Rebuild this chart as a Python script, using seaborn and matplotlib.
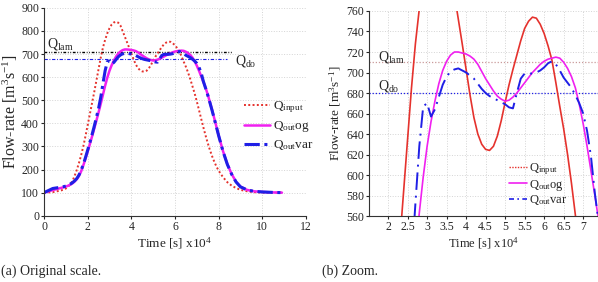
import matplotlib
matplotlib.use("Agg")
import matplotlib.pyplot as plt
from matplotlib.lines import Line2D
import seaborn as sns

# time axis in units of 1e4 s, shared by the three hydrographs
time = [0, 0.4, 0.8, 1.0, 1.2, 1.3, 1.4, 1.5, 1.6, 1.7, 1.8, 1.9, 2.0,
        2.1, 2.2, 2.3, 2.4, 2.5, 2.6, 2.7, 2.8, 2.9, 3.0,
        3.1, 3.2, 3.3, 3.4, 3.5, 3.6, 3.7, 3.8, 3.9, 4.0,
        4.1, 4.2, 4.3, 4.4, 4.5, 4.6, 4.7, 4.8, 4.9, 5.0,
        5.1, 5.2, 5.3, 5.4, 5.5, 5.6, 5.7, 5.8, 5.9, 6.0,
        6.1, 6.2, 6.3, 6.4, 6.5, 6.6, 6.7, 6.8, 6.9, 7.0,
        7.1, 7.2, 7.3, 7.4, 7.5, 7.6, 7.7, 7.8, 7.9,
        8.0, 8.2, 8.4, 8.6, 8.8, 9.0, 9.3, 9.6, 10.0, 10.5, 10.9]

q_input = [100, 102, 110, 118, 135, 150, 172, 198, 228, 262, 300, 345, 392,
           440, 488, 535, 585, 635, 685, 728, 762, 790, 812,
           828, 837, 840, 836, 824, 800, 776, 752, 728, 703,
           678, 656, 640, 630, 625, 624, 628, 638, 653, 671,
           688, 703, 717, 731, 743, 750, 754, 753, 747, 738,
           726, 712, 690, 667, 645, 620, 592, 561, 530, 495,
           458, 420, 383, 348, 315, 285, 258, 234, 213,
           195, 167, 145, 130, 120, 112, 106, 102, 100, 100, 100]

q_out_og = [100, 111, 121, 126, 134, 140, 148, 158, 172, 192, 218, 247, 278,
            310, 343, 377, 412, 448, 485, 524, 563, 598, 628,
            652, 672, 689, 702, 711, 717, 720, 720, 719, 718,
            716, 713, 708, 701, 694, 688, 682, 677, 674, 672,
            673, 676, 680, 685, 690, 695, 700, 704, 708, 711,
            713, 714, 715, 714, 710, 704, 696, 685, 669, 650,
            628, 604, 580, 555, 525, 492, 458, 422, 385,
            348, 280, 223, 180, 147, 126, 112, 106, 103, 101, 100]

q_out_var = [100, 118, 124, 128, 137, 143, 151, 161, 176, 197, 222, 252, 284,
             317, 351, 387, 425, 465, 513, 572, 628, 667, 670,
             657, 664, 676, 688, 696, 701, 703, 704, 702, 700,
             697, 694, 689, 684, 680, 677, 675, 673, 671, 669,
             666, 665, 680, 694, 699, 699, 699, 700, 702, 705,
             709, 711, 708, 702, 695, 690, 685, 678, 670, 660,
             643, 618, 582, 553, 523, 490, 456, 420, 384,
             347, 279, 222, 179, 146, 125, 112, 106, 103, 101, 100]

q_lam = 710
q_do = 680
lam_span = [0, 8.6]
do_span = [0, 8.4]

left_xticks = [0, 2, 4, 6, 8, 10, 12]
left_yticks = [0, 100, 200, 300, 400, 500, 600, 700, 800, 900]
right_xticks = [2, 2.5, 3, 3.5, 4, 4.5, 5, 5.5, 6, 6.5, 7]
right_xticklabels = ["2", "2.5", "3", "3.5", "4", "4.5", "5", "5.5", "6", "6.5", "7"]
right_yticks = [560, 580, 600, 620, 640, 660, 680, 700, 720, 740, 760]

RED = "#e5322d"
MAGENTA = "#f020f0"
BLUE = "#1f1fe6"

sns.set_style("ticks")
plt.rcParams["font.family"] = ["Liberation Serif", "DejaVu Serif"]
plt.rcParams["mathtext.fontset"] = "custom"
plt.rcParams["mathtext.rm"] = "Liberation Serif"
plt.rcParams["mathtext.it"] = "Liberation Serif:italic"

fig = plt.figure(figsize=(5.98, 2.82), dpi=100)
ax1 = fig.add_axes([0.0736, 0.235, 0.438, 0.737])
ax2 = fig.add_axes([0.617, 0.234, 0.383, 0.727])

lbl_in = r"Q$_{\rm input}$"
lbl_og = r"Q$_{\rm out}$og"
lbl_var = r"Q$_{\rm out}$var"
ylab = r"Flow-rate [m$^3$s$^{-1}$]"
xlab = r"Time [s] x10$^4$"

grid_kw = dict(color="#d4d4d4", linestyle=":", linewidth=0.7)

# ---- (a) original scale
sns.lineplot(x=lam_span, y=[q_lam, q_lam], ax=ax1, color="black",
             linestyle=(0, (2, 1.2, 0.6, 1.2, 0.6, 1.2)), linewidth=1.0)
sns.lineplot(x=do_span, y=[q_do, q_do], ax=ax1, color=BLUE,
             linestyle=(0, (3, 1.5, 0.8, 1.5)), linewidth=0.8)
sns.lineplot(x=time, y=q_input, ax=ax1, color=RED, linestyle=(0, (1, 1.2)),
             linewidth=1.4, sort=False, estimator=None, label=lbl_in)
sns.lineplot(x=time, y=q_out_og, ax=ax1, color=MAGENTA, linewidth=1.8,
             sort=False, estimator=None, label=lbl_og)
sns.lineplot(x=time, y=q_out_var, ax=ax1, color=BLUE, linewidth=2.2,
             linestyle=(0, (5, 1.5, 1, 1.5)), sort=False, estimator=None,
             label=lbl_var)

ax1.set_xlim(0, 12)
ax1.set_ylim(0, 900)
ax1.set_xticks(left_xticks)
ax1.set_yticks(left_yticks)
ax1.grid(True, **grid_kw)
ax1.set_xlabel(xlab, fontsize=9.5, labelpad=2)
ax1.set_ylabel(ylab, fontsize=11.5, labelpad=1)
ax1.tick_params(labelsize=8.5, length=2, pad=1.5)
ax1.text(0.15, 727, r"Q$_{\rm lam}$", fontsize=10)
ax1.text(8.75, 668, r"Q$_{\rm do}$", fontsize=10, va="center")
ax1.legend(loc="center left", bbox_to_anchor=(0.408, 0.553),
           bbox_transform=fig.transFigure, frameon=False, fontsize=9.5,
           handlelength=2.0, handletextpad=0.2, labelspacing=0.3,
           borderpad=0, borderaxespad=0)

# ---- (b) zoom
ax2.axhline(q_lam, color="#c99a9a", linestyle=(0, (1, 1.5)), linewidth=0.9)
ax2.axhline(q_do, color=BLUE, linestyle=(0, (1, 1.5)), linewidth=0.9)
sns.lineplot(x=time, y=q_input, ax=ax2, color=RED, linewidth=1.2,
             sort=False, estimator=None, legend=False)
sns.lineplot(x=time, y=q_out_og, ax=ax2, color=MAGENTA, linewidth=1.2,
             sort=False, estimator=None, legend=False)
sns.lineplot(x=time, y=q_out_var, ax=ax2, color=BLUE, linewidth=1.4,
             linestyle=(0, (9, 3, 1, 3)), sort=False, estimator=None,
             legend=False)

ax2.set_xlim(1.51, 7.38)
ax2.set_ylim(560, 760)
ax2.set_xticks(right_xticks)
ax2.set_xticklabels(right_xticklabels)
ax2.set_yticks(right_yticks)
ax2.grid(True, **grid_kw)
ax2.set_xlabel(xlab, fontsize=9, labelpad=2)
ax2.set_ylabel(ylab, fontsize=9.5, labelpad=2)
ax2.tick_params(labelsize=8.5, length=2, pad=1.5)
ax2.text(1.74, 712, r"Q$_{\rm lam}$", fontsize=10)
ax2.text(1.74, 683, r"Q$_{\rm do}$", fontsize=10)
handles = [Line2D([], [], color=RED, linestyle=(0, (1, 1)), linewidth=1.0),
           Line2D([], [], color=MAGENTA, linewidth=1.2),
           Line2D([], [], color=BLUE, linestyle=(0, (3, 2, 1, 2)), linewidth=1.2)]
ax2.legend(handles, [lbl_in, lbl_og, lbl_var], loc="center left",
           bbox_to_anchor=(0.852, 0.346), bbox_transform=fig.transFigure,
           frameon=False, fontsize=9, handlelength=1.4, handletextpad=0.2,
           labelspacing=0.05, borderpad=0, borderaxespad=0)

for ax in (ax1, ax2):
    sns.despine(ax=ax)
    for s in ("left", "bottom"):
        ax.spines[s].set_linewidth(0.8)
        ax.spines[s].set_color("#333333")

fig.text(0.002, 0.025, "(a) Original scale.", fontsize=10)
fig.text(0.538, 0.025, "(b) Zoom.", fontsize=10)

fig.savefig("out.png", dpi=100)
